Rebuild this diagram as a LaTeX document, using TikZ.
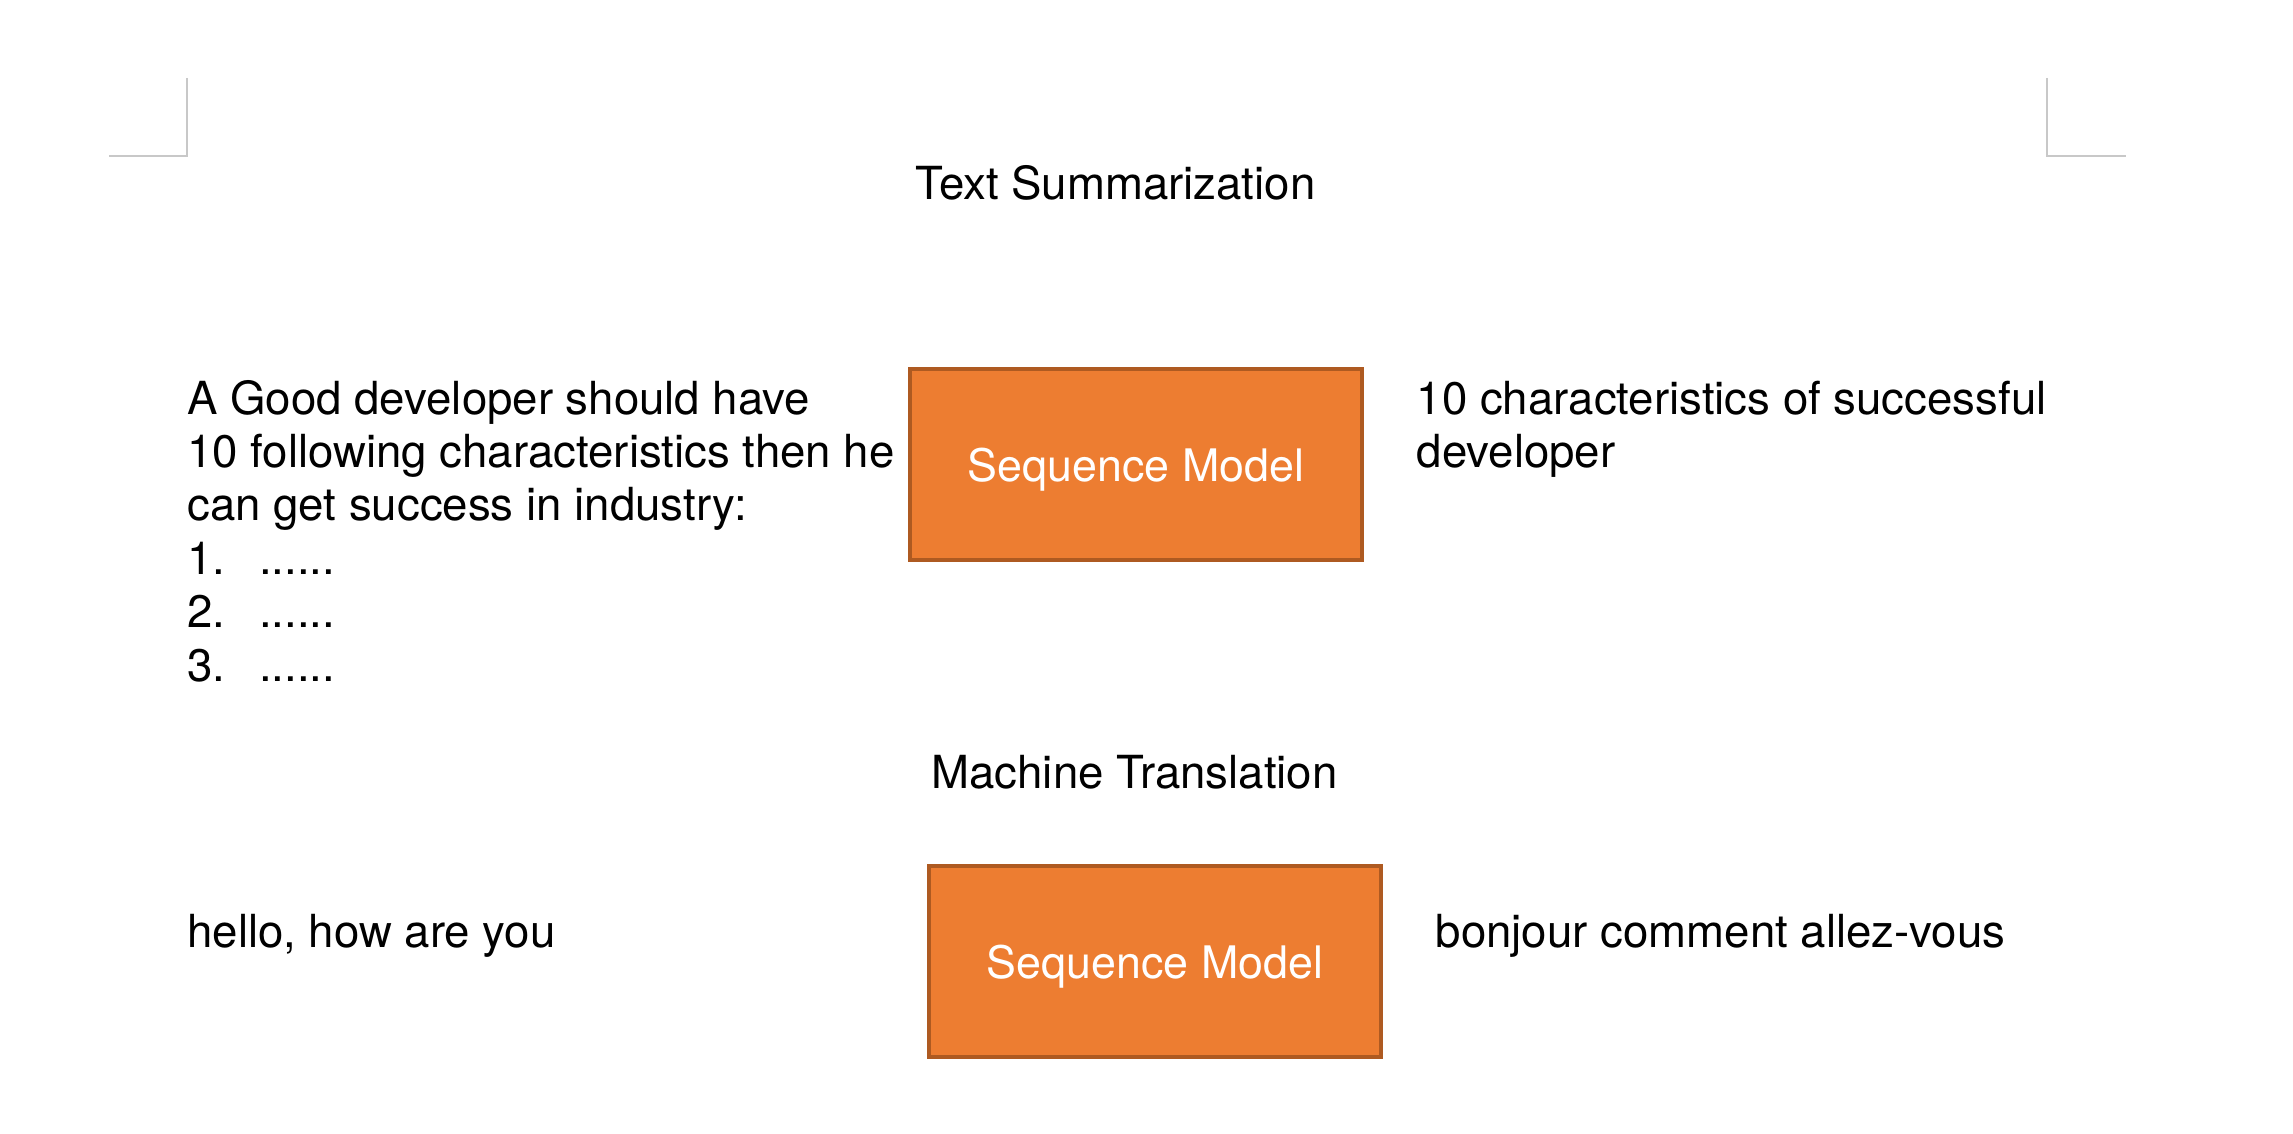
\documentclass[tikz,border=0pt]{standalone}
\usepackage{fontspec}
\setmainfont{TeX Gyre Heros}
\definecolor{boxfill}{HTML}{ED7D31}
\definecolor{boxline}{HTML}{AE5A21}
\definecolor{markgray}{HTML}{C8C8C8}
\begin{document}
\begin{tikzpicture}[x=0.25pt,y=-0.25pt,
  txt/.style={anchor=base west, inner sep=0pt, text=black, font=\fontsize{11.4pt}{13.35pt}\selectfont},
  ttl/.style={anchor=base, inner sep=0pt, text=black, font=\fontsize{11.4pt}{13.35pt}\selectfont},
  seqbox/.style={draw=boxline, fill=boxfill, line width=1pt, rectangle, inner sep=0pt,
    minimum width=113pt, minimum height=47.75pt, text height=8.5pt, text depth=0pt,
    text=white, font=\fontsize{11.2pt}{13.35pt}\selectfont},
  cropmark/.style={draw=markgray, line width=0.5pt}]
\useasboundingbox (0,0) rectangle (2293,1134);
% crop marks
\draw[cropmark] (187,78) -- (187,156) -- (109,156);
\draw[cropmark] (2047,78) -- (2047,156) -- (2126,156);
% titles
\node[ttl] (t1) at (1115.5,200) {Text Summarization};
\node[ttl] (t2) at (1134.5,788) {Machine Translation};
% boxes
\node[seqbox] (s1) at (1136,464.5) {Sequence Model};
\node[seqbox] (s2) at (1155,961) {Sequence Model};
% left text
\node[txt] (l1) at (186.5,414) {A Good developer should have};
\node[txt] (l2) at (186.5,467.4) {10 following characteristics then he};
\node[txt] (l3) at (186.5,520.8) {can get success in industry:};
\node[txt] (l4) at (186.5,574.2) {\makebox[18pt][l]{1.}......};
\node[txt] (l5) at (186.5,627.6) {\makebox[18pt][l]{2.}......};
\node[txt] (l6) at (186.5,681) {\makebox[18pt][l]{3.}......};
% right text
\node[txt] (r1) at (1416,414) {10 characteristics of successful};
\node[txt] (r2) at (1416,467.4) {developer};
% translation
\node[txt] (h1) at (186.5,947) {hello, how are you};
\node[txt] (b1) at (1435,947) {bonjour comment allez-vous};
\end{tikzpicture}
\end{document}
